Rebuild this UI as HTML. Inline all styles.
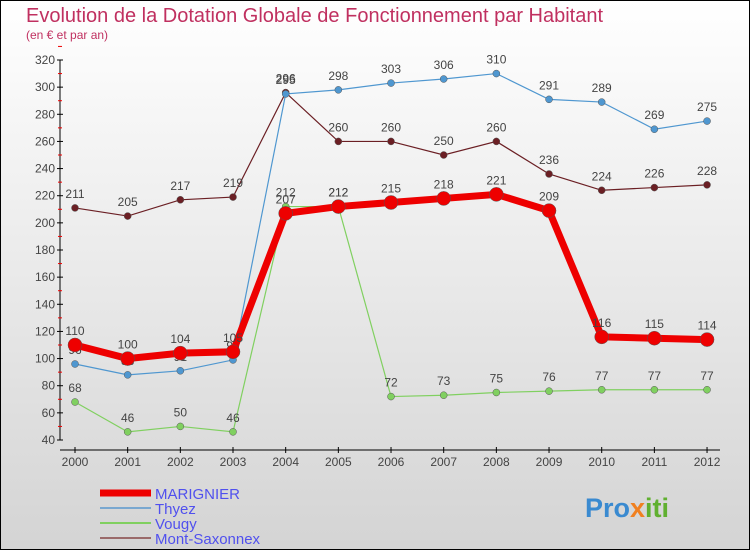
<!DOCTYPE html>
<html><head><meta charset="utf-8"><style>
html,body{margin:0;padding:0}
body{width:750px;height:550px;overflow:hidden;font-family:"Liberation Sans",sans-serif}
#c{position:absolute;left:0;top:0;width:748px;height:548px;border:1px solid #000;background:linear-gradient(#fff,#d4d4d4)}
</style></head><body>
<div id="c"></div>
<svg id="s" width="750" height="550" style="position:absolute;left:0;top:0">
<text x="26" y="22" font-size="20" fill="#c03060">Evolution de la Dotation Globale de Fonctionnement par Habitant</text>
<text x="26" y="39" font-size="12" fill="#c03060">(en € et par an)</text>
<g id="axes"></g><g id="series"></g><g id="legend"></g>
<text x="585" y="517" font-size="27" font-weight="bold" fill="#3a8ad0">Pro<tspan fill="#f08020">x</tspan><tspan fill="#60b030">iti</tspan></text>
</svg>
<script>
const years=["2000","2001","2002","2003","2004","2005","2006","2007","2008","2009","2010","2011","2012"];
const yTicks=[40,60,80,100,120,140,160,180,200,220,240,260,280,300,320];
const marignier=[110,100,104,105,207,212,215,218,221,209,116,115,114];
const thyez=[96,88,91,99,295,298,303,306,310,291,289,269,275];
const vougy=[68,46,50,46,212,212,72,73,75,76,77,77,77];
const montSaxonnex=[211,205,217,219,296,260,260,250,260,236,224,226,228];
const NS="http://www.w3.org/2000/svg";
function X(i){return 75+i*52.67;}
function Y(v){return 440-(v-40)*380/280;}
function mk(t,a,p){const e=document.createElementNS(NS,t);for(const k in a)e.setAttribute(k,a[k]);(p||document.getElementById('series')).appendChild(e);return e;}
const ax=document.getElementById('axes');
let e=mk('line',{x1:60,y1:Y(320),x2:60,y2:440,stroke:'#000'},ax);

e=mk('line',{x1:60,y1:450,x2:720,y2:450,stroke:'#000'},ax);

yTicks.forEach(v=>{mk('line',{x1:57,x2:63,y1:Y(v),y2:Y(v),stroke:'#000'},ax);
mk('line',{x1:58,x2:62,y1:Y(v+10),y2:Y(v+10),stroke:'#e00'},ax);
const t=mk('text',{x:55,y:Y(v)+4,'font-size':12,'text-anchor':'end',fill:'#444'},ax);t.textContent=v;
});
years.forEach((y,i)=>{mk('line',{x1:X(i),x2:X(i),y1:447,y2:453,stroke:'#000'},ax);
const t=mk('text',{x:X(i),y:466,'font-size':12,'text-anchor':'middle',fill:'#444'},ax);t.textContent=y;
});
function series(d,col,w,r,name){
const g=mk('g',{});
const l=mk('polyline',{points:d.map((v,i)=>X(i)+','+Y(v)).join(' '),fill:'none',stroke:col,'stroke-width':w},g);

d.forEach((v,i)=>{const c=mk('circle',{cx:X(i),cy:Y(v),r:r,fill:col,stroke:'#555','stroke-width':0.5},g);

const t=mk('text',{x:X(i),y:Y(v)-10,'font-size':12,'text-anchor':'middle',fill:'#444'},g);t.textContent=v;
});}
series(montSaxonnex,'#6b1f24',1.2,3.5,'mont-saxonnex');
series(thyez,'#4f97d0',1.2,3.5,'thyez');
series(vougy,'#80d060',1.2,3.5,'vougy');
series(marignier,'#ee0000',7,7,'marignier');
const lg=document.getElementById('legend');
[['MARIGNIER','#ee0000',7],['Thyez','#7aa8d0',2],['Vougy','#80d060',2],['Mont-Saxonnex','#9a6a6a',2]].forEach((s,i)=>{
const y=493+i*15;
const l=mk('line',{x1:100,x2:151,y1:y,y2:y,stroke:s[1],'stroke-width':s[2]},lg);

const t=mk('text',{x:155,y:y+6,'font-size':15,fill:'#5050ee'},lg);t.textContent=s[0];
});
</script>
</body></html>
